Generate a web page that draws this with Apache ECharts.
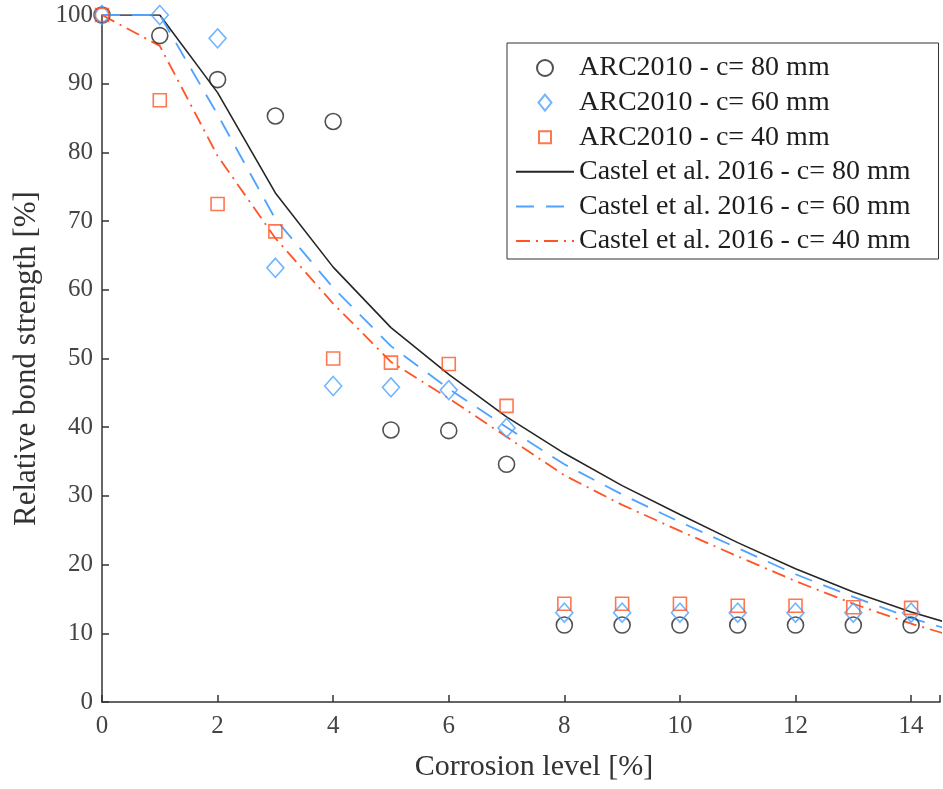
<!DOCTYPE html>
<html><head><meta charset="utf-8">
<script src="https://cdn.jsdelivr.net/npm/echarts@6/dist/echarts.min.js"></script>
<style>html,body{margin:0;padding:0;background:#fff}#c{width:943px;height:789px}</style>
</head><body><div id="c"></div>
<script>
const xLevels = [0,1,2,3,4,5,6,7,8,9,10,11,12,13,14];
const arc80 = [100,97.0,90.6,85.3,84.5,39.6,39.5,34.6,11.2,11.2,11.2,11.2,11.2,11.2,11.2];
const arc60 = [100,100,96.6,63.2,46.0,45.8,45.4,39.9,13.0,13.0,13.0,13.0,13.0,13.0,13.0];
const arc40 = [100,87.6,72.5,68.5,50.0,49.4,49.2,43.1,14.3,14.3,14.3,14.0,14.0,13.8,13.7];
const modelX = [0,1,2,3,4,5,6,7,8,9,10,11,12,13,14,15];
const castel80 = [100,100,88.7,74.1,63.3,54.5,47.7,41.5,36.2,31.5,27.3,23.2,19.4,16.0,13.1,10.6];
const castel60 = [100,100,85.5,70.3,60.3,51.8,45.6,40.0,34.6,30.2,26.2,22.4,18.6,15.3,12.2,9.7];
const castel40 = [100,95.5,79.5,67.5,58.0,49.5,44.2,38.6,33.0,28.7,24.9,21.2,17.6,14.3,11.4,8.9];
const names = ['ARC2010 - c= 80 mm','ARC2010 - c= 60 mm','ARC2010 - c= 40 mm',
  'Castel et al. 2016 - c= 80 mm','Castel et al. 2016 - c= 60 mm','Castel et al. 2016 - c= 40 mm'];

const BLACK = '#262626', BLUE = '#4DA3FF', RED = '#FF5526';
const FONT = 'Liberation Serif';
const pair = (xs, ys) => xs.map((x, i) => [x, ys[i]]);
const hideSym = {opacity: 0, color: 'rgba(0,0,0,0)', borderColor: 'rgba(0,0,0,0)', borderWidth: 0};

const chart = echarts.init(document.getElementById('c'));
chart.setOption({
  animation: false,
  backgroundColor: '#fff',
  grid: {left: 102, top: 15, right: 1, bottom: 87},
  legend: {
    orient: 'vertical', left: 507, top: 43,
    itemWidth: 58, itemHeight: 16, itemGap: 6.6,
    padding: [11, 28, 4, 8],
    borderColor: '#333', borderWidth: 1, backgroundColor: '#fff',
    textStyle: {fontFamily: FONT, fontSize: 28, lineHeight: 28, color: '#1e1e1e'},
    data: [
      {name: names[0], icon: 'circle'},
      {name: names[1], icon: 'path://M6.5,0L13,8L6.5,16L0,8Z'},
      {name: names[2], icon: 'path://M0,0L0.01,0M16,16L16.01,16M2,2H14V14H2Z'},
      {name: names[3], itemStyle: hideSym},
      {name: names[4], itemStyle: hideSym},
      {name: names[5], itemStyle: hideSym}
    ]
  },
  xAxis: {
    type: 'value', min: 0, max: 14.5, interval: 2,
    name: 'Corrosion level [%]', nameLocation: 'middle', nameGap: 50,
    nameTextStyle: {fontFamily: FONT, fontSize: 30, color: '#333', padding: [0, 0, 0, 26]},
    axisLine: {lineStyle: {color: '#333', width: 1.5}},
    axisTick: {inside: true, length: 7, lineStyle: {color: '#333', width: 1.5}},
    axisLabel: {fontFamily: FONT, fontSize: 25, color: '#444', margin: 12,
      formatter: v => (v % 2 === 0 ? String(v) : '')},
    splitLine: {show: false}
  },
  yAxis: {
    type: 'value', min: 0, max: 100, interval: 10,
    name: 'Relative bond strength [%]', nameLocation: 'middle', nameGap: 60,
    nameTextStyle: {fontFamily: FONT, fontSize: 31, color: '#333'},
    axisLine: {show: true, lineStyle: {color: '#333', width: 1.5}},
    axisTick: {show: true, inside: true, length: 7, lineStyle: {color: '#333', width: 1.5}},
    axisLabel: {fontFamily: FONT, fontSize: 25, color: '#444', margin: 9},
    splitLine: {show: false}
  },
  series: [
    {name: names[3], type: 'line', data: pair(modelX, castel80), showSymbol: false, symbol: 'none',
      lineStyle: {color: BLACK, width: 1.6}, itemStyle: {color: BLACK}, z: 2},
    {name: names[4], type: 'line', data: pair(modelX, castel60), showSymbol: false, symbol: 'none',
      lineStyle: {color: BLUE, width: 1.8, type: [18, 12]}, itemStyle: {color: BLUE}, z: 2},
    {name: names[5], type: 'line', data: pair(modelX, castel40), showSymbol: false, symbol: 'none',
      lineStyle: {color: RED, width: 1.8, type: [14, 6, 2, 6]}, itemStyle: {color: RED}, z: 2},
    {name: names[0], type: 'scatter', data: pair(xLevels, arc80), symbol: 'circle', symbolSize: 16, clip: false,
      itemStyle: {color: 'rgba(0,0,0,0)', borderColor: BLACK, borderWidth: 1.6}, z: 3},
    {name: names[1], type: 'scatter', data: pair(xLevels, arc60), symbol: 'diamond', symbolSize: [17, 19], clip: false,
      itemStyle: {color: 'rgba(0,0,0,0)', borderColor: BLUE, borderWidth: 1.6}, z: 3},
    {name: names[2], type: 'scatter', data: pair(xLevels, arc40), symbol: 'rect', symbolSize: 13, clip: false,
      itemStyle: {color: 'rgba(0,0,0,0)', borderColor: RED, borderWidth: 1.6}, z: 3}
  ]
});
</script></body></html>
